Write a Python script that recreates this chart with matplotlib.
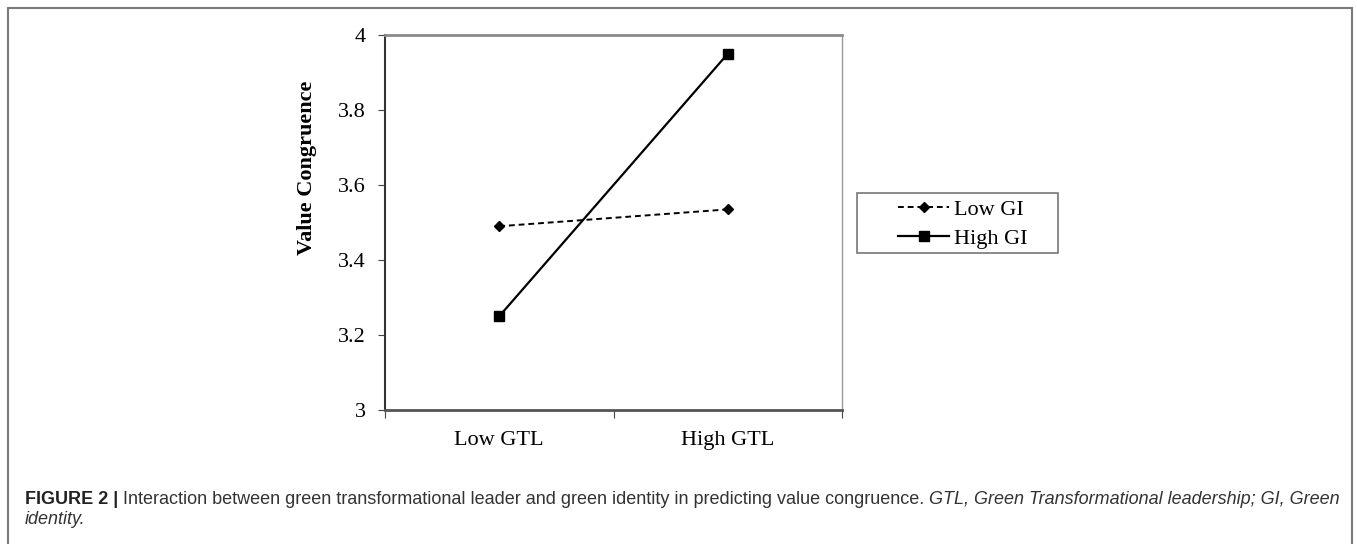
import matplotlib
matplotlib.use("Agg")
import matplotlib.pyplot as plt
from matplotlib.patches import Rectangle

# data
categories = ["Low GTL", "High GTL"]
low_gi = [3.49, 3.535]
high_gi = [3.25, 3.95]
series_labels = ["Low GI", "High GI"]
y_ticks = [3, 3.2, 3.4, 3.6, 3.8, 4]
y_ticklabels = ["3", "3.2", "3.4", "3.6", "3.8", "4"]

caption_bold = "FIGURE 2 | "
caption_plain = ("Interaction between green transformational leader and green identity "
                 "in predicting value congruence. ")
caption_italic = "GTL, Green Transformational leadership; GI, Green"
caption_line2 = "identity."

W, H = 1357, 544
fig = plt.figure(figsize=(W / 100, H / 100), dpi=100)

serif = "Liberation Serif"
fs = 16

# outer frame (bottom edge runs off the image)
fig.patches.append(Rectangle((8 / W, -0.05), (1352 - 8) / W, 1.05 - 8 / H,
                             transform=fig.transFigure, fill=False,
                             edgecolor="#7a7a7a", lw=1.5))

ax = fig.add_axes([385 / W, 1 - 410 / H, (842 - 385) / W, (410 - 35) / H])

x_pos = [0.5, 1.5]
ax.plot(x_pos, low_gi, color="black", ls=(0, (3, 2)), lw=1.4,
        marker="D", markersize=5.5, label=series_labels[0])
ax.plot(x_pos, high_gi, color="black", ls="-", lw=1.6,
        marker="s", markersize=7.5, label=series_labels[1])

ax.set_xlim(0, 2)
ax.set_ylim(3, 4)
ax.set_yticks(y_ticks)
ax.set_yticklabels(y_ticklabels, fontfamily=serif, fontsize=fs)
ax.set_xticks([0, 1, 2])
ax.set_xticklabels([])
ax.set_xticks(x_pos, minor=True)
ax.set_xticklabels(categories, minor=True, fontfamily=serif, fontsize=fs)
ax.tick_params(axis="x", which="minor", length=0, pad=15)
ax.tick_params(axis="x", which="major", length=6, direction="out", color="#444")
ax.tick_params(axis="y", length=5, direction="out", color="#444", pad=9)

ax.spines["top"].set_color("#8a8a8a")
ax.spines["top"].set_linewidth(2)
ax.spines["bottom"].set_color("#555")
ax.spines["bottom"].set_linewidth(2)
ax.spines["left"].set_color("#333")
ax.spines["left"].set_linewidth(1.5)
ax.spines["right"].set_color("#999")
ax.spines["right"].set_linewidth(1)

fig.text(307 / W, 1 - 168 / H, "Value Congruence", rotation=90,
         ha="center", va="center", fontfamily=serif, fontweight="bold", fontsize=fs)

# legend box drawn separately, entries inside it
fig.patches.append(Rectangle((857 / W, 1 - 253 / H), (1058 - 857) / W, 60 / H,
                             transform=fig.transFigure, fill=False,
                             edgecolor="#777", lw=1.2))
leg = ax.legend(loc="center left", bbox_to_anchor=(898 / W, 1 - 224 / H),
                bbox_transform=fig.transFigure, frameon=False,
                prop={"family": serif, "size": fs}, handlelength=2.3,
                handletextpad=0.2, labelspacing=0.4, borderpad=0,
                borderaxespad=0)

# caption, pieces placed one after another, sized to span the line
renderer = fig.canvas.get_renderer()
cap_font = "Liberation Sans"
y1 = 1 - 500 / H
y2 = 1 - 519 / H


def caption_width(size):
    total = 0
    for txt, kw in [(caption_bold, {"fontweight": "bold"}), (caption_plain, {}),
                    (caption_italic, {"style": "italic"})]:
        t = fig.text(0, 0, txt, fontfamily=cap_font, fontsize=size, **kw)
        total += t.get_window_extent(renderer).width
        t.remove()
    return total


cap_size = 11 * (1337 - 25) / caption_width(11)

x = 25 / W
t = fig.text(x, y1, caption_bold, fontfamily=cap_font, fontweight="bold",
             fontsize=cap_size, va="center", color="#222")
x += t.get_window_extent(renderer).width / W
t = fig.text(x, y1, caption_plain, fontfamily=cap_font, fontsize=cap_size,
             va="center", color="#333")
x += t.get_window_extent(renderer).width / W
fig.text(x, y1, caption_italic, fontfamily=cap_font, style="italic",
         fontsize=cap_size, va="center", color="#333")
fig.text(25 / W, y2, caption_line2, fontfamily=cap_font, style="italic",
         fontsize=cap_size, va="center", color="#333")

fig.savefig("out.png", dpi=100)
